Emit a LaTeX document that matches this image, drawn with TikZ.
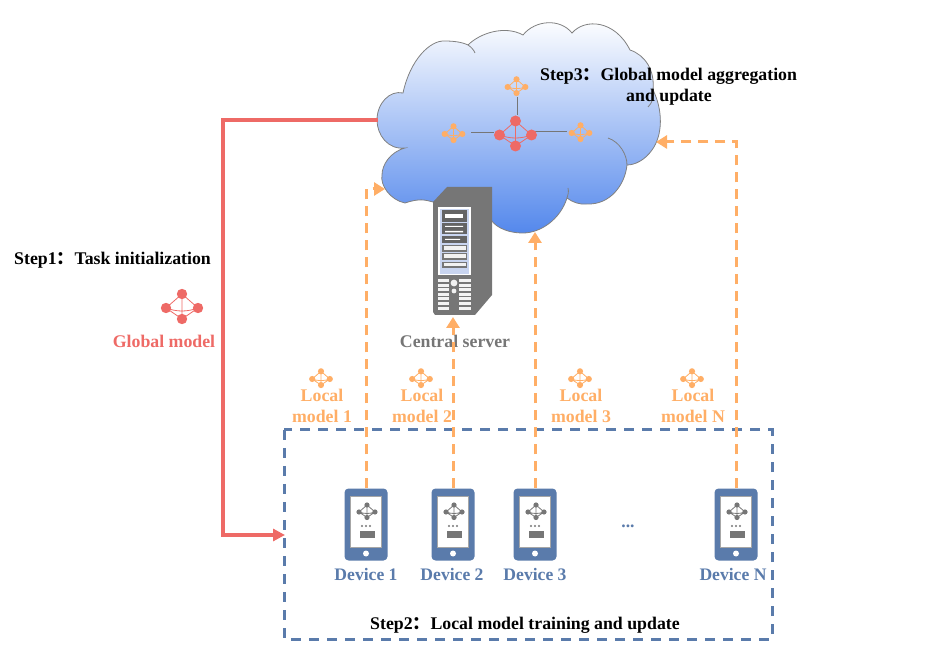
\documentclass[tikz,border=0pt]{standalone}
\usepackage{fontspec}
\setmainfont{Liberation Serif}
\newfontfamily\cjk{Noto Sans CJK SC}
\usepackage{tikz}
\usetikzlibrary{arrows.meta, positioning}
\definecolor{redline}{HTML}{EE6A66}
\definecolor{orangeline}{HTML}{FFAE66}
\definecolor{blueline}{HTML}{5A7BAB}
\definecolor{cloudblue}{HTML}{5488EC}
\definecolor{servergray}{HTML}{767676}
\definecolor{panelblue}{HTML}{C9D5F0}
\tikzset{
  steplabel/.style={font=\bfseries\fontsize{17.8}{21}\selectfont, text=black, align=center, inner sep=0pt},
  locallabel/.style={font=\bfseries\fontsize{17.8}{21}\selectfont, text=orangeline, align=center, inner sep=0pt},
  devlabel/.style={font=\bfseries\fontsize{17.6}{21}\selectfont, text=blueline, inner sep=0pt},
  initline/.style={redline, line width=3.6pt, -{Triangle[length=12pt,width=12pt]}},
  uploadline/.style={orangeline, line width=3pt, dash pattern=on 10pt off 7pt, -{Triangle[length=11pt,width=13pt]}},
  linkline/.style={servergray, line width=1pt},
  devbody/.style={fill=blueline, rounded corners=4pt, minimum width=43pt, minimum height=72pt, inner sep=0pt},
  pics/netmodel/.style 2 args={code={
    \draw[#1, line width=.8pt] (0,-14) -- (-16,0) -- (0,11) -- (16,0) -- cycle (0,-14) -- (0,11) (-16,0) .. controls (-5,4) and (5,4) .. (16,0);
    \foreach \px/\py in {0/-14, -16/0, 16/0, 0/11}
      \fill[#1] (\px,\py) circle (#2);
  }},
  pics/phone/.style={code={
    \node[devbody] (-body) at (0,0) {};
    \fill[white, draw=gray!70, line width=1pt] (-15.5,-28.5) rectangle (15.5,22.5);
    \fill[white] (0,29) circle (3pt);
    \pic[scale=.5] at (1,-12.5) {netmodel={servergray}{5.2pt}};
    \foreach \px in {-4,0,4}
      \fill[servergray] (\px,1.5) circle (1.2pt);
    \fill[servergray] (-6.5,6.5) rectangle (8.5,13.5);
  }}
}
\begin{document}
\begin{tikzpicture}[x=1pt,y=-1pt]
  \useasboundingbox (0,0) rectangle (938,660);
  % cloud
  \path[draw=gray, line width=.8pt, top color=white, bottom color=cloudblue]
    (405,148) .. controls (388,150) and (377,135) .. (377,120)
    .. controls (377,103) and (390,90) .. (403,93)
    .. controls (410,60) and (430,40) .. (445,41)
    .. controls (453,41) and (462,42) .. (468,45)
    .. controls (480,33) and (505,25) .. (523,35)
    .. controls (535,20) and (560,18) .. (572,33)
    .. controls (585,18) and (615,20) .. (630,50)
    .. controls (645,55) and (655,70) .. (653,90)
    .. controls (663,110) and (663,135) .. (652,150)
    .. controls (645,160) and (635,165) .. (627,165)
    .. controls (625,185) and (610,205) .. (587,204)
    .. controls (580,205) and (572,202) .. (567,198)
    .. controls (560,220) and (540,233) .. (523,233)
    .. controls (505,233) and (492,225) .. (490,217)
    -- (433,202)
    .. controls (425,200) and (420,198) .. (405,203)
    .. controls (390,200) and (380,185) .. (382,175)
    .. controls (382,165) and (390,152) .. (405,148) -- cycle;
  \draw[gray, line width=.8pt] (468,45) .. controls (471,47) and (474,50) .. (475,53);
  \draw[gray, line width=.8pt] (653,90) .. controls (654,98) and (652,103) .. (648,107);
  \draw[gray, line width=.8pt] (608,138) .. controls (620,142) and (627,155) .. (627,165);
  \draw[gray, line width=.8pt] (568,188) .. controls (569,192) and (568,195) .. (567,198);

  % server
  \fill[servergray] (433,202) -- (447,187) -- (492,187) -- (492,295) -- (475,315) -- (435,315) -- (433,312) -- cycle;
  \fill[white] (438,207) rectangle (471,275);
  \fill[panelblue] (440,209) rectangle (469,274);
  \foreach \ya/\yb in {210/222, 223/234, 236/243}
    \fill[servergray!85!black] (442,\ya) rectangle (467,\yb);
  \foreach \ya/\yb in {245/252, 253/260, 262/268} {
    \fill[servergray] (442,\ya) rectangle (467,\yb);
    \fill[white!90!gray] (443.5,\ya+1.5) rectangle (465.5,\yb-1.5);
  }
  \fill[white] (445,214) rectangle (463,218);
  \fill[white] (445,226) rectangle (463,227) (445,231) rectangle (463,232.5) (445,239) rectangle (460,240);
  \foreach \yy in {279,283.6,...,307} {
    \fill[white!90!gray] (438,\yy) rectangle (449,\yy+3);
    \fill[white!90!gray] (459,\yy) rectangle (471,\yy+3);
  }
  \fill[white!90!gray] (454,283) circle (3.4pt) (454,291) circle (2.4pt);

  % model icons in the cloud
  \coordinate (hubtop) at (517,115);
  \coordinate (hubleft) at (494,133);
  \coordinate (hubright) at (532,132);
  \coordinate (upleaf) at (517,97);
  \coordinate (leftleaf) at (471,133);
  \coordinate (rightleaf) at (567,132);
  \draw[linkline] (upleaf) -- (hubtop);
  \draw[linkline] (leftleaf) -- (hubleft);
  \draw[linkline] (rightleaf) -- (hubright);
  \pic[scale=1] at (515.5,135) {netmodel={redline}{5.5pt}};
  \pic[scale=.55] at (516.5,87) {netmodel={orangeline}{5.6pt}};
  \pic[scale=.55] at (453.5,134) {netmodel={orangeline}{5.6pt}};
  \pic[scale=.55] at (580.5,133) {netmodel={orangeline}{5.6pt}};

  % global model
  \pic[scale=1] at (182,308) {netmodel={redline}{5.2pt}};
  \node[steplabel, anchor=west] (stepone) at (14,260.5) {Step1{\cjk：}Task initialization};
  \node[steplabel, text=redline] (globalname) at (164,341) {Global model};
  \node[steplabel, text=servergray] (servername) at (455,341) {Central server};
  \node[steplabel, anchor=west] (stepthree) at (540,76.5) {Step3{\cjk：}Global model aggregation};
  \node[steplabel] (stepthreeb) at (669,97) {and update};

  % local models
  \foreach \cx/\cn [count=\ci] in {321/1, 421/2, 580/3, 692/N} {
    \pic[scale=.55] at (\cx,379) {netmodel={orangeline}{5.6pt}};
    \node[locallabel] (local\ci) at (\cx+1,405.5) {Local\\model \cn};
  }

  % clients
  \draw[blueline, line width=3pt, dash pattern=on 10pt off 8pt] (284,430) rectangle (772,639);
  \foreach \cx/\cname/\lx in {366/1/366, 453/2/452, 535/3/535, 736/N/733} {
    \pic (dev\cname) at (\cx,524.5) {phone};
    \node[devlabel] (devname\cname) at (\lx,574) {Device \cname};
  }
  \node[devlabel] (dots) at (628,526) {...};
  \node[steplabel] (steptwo) at (525,625.5) {Step2{\cjk：}Local model training and update};

  % connectors
  \coordinate (cloudleft) at (378,120);
  \coordinate (cornertop) at (223,120);
  \coordinate (boxleft) at (285,535);
  \coordinate (cloudone) at (385,189);
  \coordinate (servertip) at (453,317);
  \coordinate (cloudthree) at (534,232);
  \coordinate (cloudfour) at (656,142);
  \draw[initline] (cloudleft) -- (cornertop) |- (boxleft);
  \draw[uploadline] (dev1-body.north) |- (cloudone);
  \draw[uploadline] (dev2-body.north) -- (dev2-body.north |- servertip);
  \draw[uploadline] (dev3-body.north) -- (dev3-body.north |- cloudthree);
  \draw[uploadline] (devN-body.north) |- (cloudfour);
\end{tikzpicture}
\end{document}
